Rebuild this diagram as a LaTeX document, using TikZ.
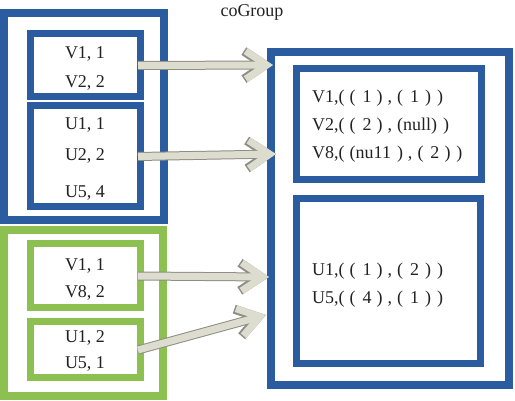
\documentclass[tikz,border=0pt]{standalone}
\usepackage{fontspec}
\setmainfont{Liberation Serif}
\usetikzlibrary{arrows.meta}
\definecolor{bl}{HTML}{2B5CA0}
\definecolor{gr}{HTML}{8CC152}
\definecolor{afill}{HTML}{DCDCCF}
\definecolor{aline}{HTML}{8E8E84}
\definecolor{txt}{HTML}{222222}
\tikzset{
  box/.style={draw, rectangle, inner sep=0pt, outer sep=0pt},
  bout/.style={box, draw=bl, line width=8pt},
  bin/.style={box, draw=bl, line width=7pt},
  gout/.style={box, draw=gr, line width=8pt},
  gin/.style={box, draw=gr, line width=7pt},
  lbl/.style={inner sep=0pt, text=txt, text height=12pt, text depth=0pt, font=\fontsize{18}{22}\selectfont},
  fat/.style={line width=7pt, draw=afill, -{Straight Barb[length=21pt,width=28pt]},
    preaction={draw=aline, line width=9pt, -{Straight Barb[length=21pt,width=28pt]}}},
}
\newcommand\kk[1]{\kern#1pt}
\begin{document}
\begin{tikzpicture}[x=1pt,y=-1pt]
\useasboundingbox[fill=white] (0,0) rectangle (515,401);
% left blue group
\node[bout, minimum width=160pt, minimum height=207pt] (lbo) at (84,116.5) {};
\node[bin, minimum width=110pt, minimum height=63pt] (lb1) at (85,65.5) {};
\node[bin, minimum width=110pt, minimum height=101pt] (lb2) at (85,156.5) {};
% left green group
\node[gout, minimum width=159pt, minimum height=166pt] (lgo) at (83.5,313) {};
\node[gin, minimum width=110pt, minimum height=64pt] (lg1) at (85,276) {};
\node[gin, minimum width=110pt, minimum height=56pt] (lg2) at (85,350) {};
% right group
\node[bout, minimum width=238pt, minimum height=333pt] (ro) at (390,218.5) {};
\node[bin, minimum width=185pt, minimum height=111pt] (r1) at (388.5,124.5) {};
\node[bin, minimum width=184pt, minimum height=165pt] (r2) at (388,281.5) {};
% title
\node[lbl] (title) at (252,11) {coGroup};
% left texts
\node[lbl] (t1) at (85,53) {V1, 1};
\node[lbl] (t2) at (85,82) {V2, 2};
\node[lbl] (t3) at (85,124) {U1, 1};
\node[lbl] (t4) at (85,155) {U2, 2};
\node[lbl] (t5) at (85,192) {U5, 4};
\node[lbl] (t6) at (85,265) {V1, 1};
\node[lbl] (t7) at (85,292) {V8, 2};
\node[lbl] (t8) at (85,337) {U1, 2};
\node[lbl] (t9) at (85,363) {U5, 1};
% right texts
\node[lbl, anchor=west] (r1a) at (312,97) {V1,(\kk5(\kk7 1\kk5)\kk5,\kk5(\kk7 1\kk6)\kk6)};
\node[lbl, anchor=west] (r1b) at (312,125) {V2,(\kk5(\kk7 2\kk5)\kk5,\kk5(null)\kk6)};
\node[lbl, anchor=west] (r1c) at (312,153) {V8,(\kk5(nu11\kk6)\kk5,\kk5(\kk7 2\kk5)\kk6)};
\node[lbl, anchor=west] (r2a) at (312,270) {U1,(\kk5(\kk7 1\kk5)\kk5,\kk5(\kk7 2\kk6)\kk6)};
\node[lbl, anchor=west] (r2b) at (312,298) {U5,(\kk5(\kk7 4\kk5)\kk5,\kk5(\kk7 1\kk6)\kk6)};
% arrows
\coordinate (s1) at ([xshift=-2pt]lb1.east);
\coordinate (s2) at ([xshift=-2pt]lb2.east);
\coordinate (s3) at ([xshift=-2pt]lg1.east);
\coordinate (s4) at ([xshift=-2pt]lg2.east);
\coordinate (e1) at (273,65);
\coordinate (e2) at (276,154);
\coordinate (e3) at (269,277);
\coordinate (e4) at (266,315);
\draw[fat] (s1) -- (e1);
\draw[fat] (s2) -- (e2);
\draw[fat] (s3) -- (e3);
\draw[fat] (s4) -- (e4);
\end{tikzpicture}
\end{document}
